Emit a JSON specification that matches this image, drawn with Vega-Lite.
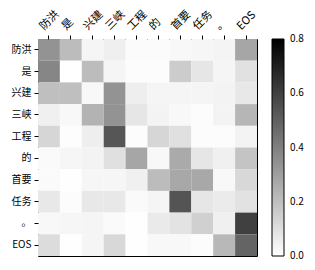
{
  "$schema": "https://vega.github.io/schema/vega-lite/v6.json",
  "autosize": {"type": "none"},
  "padding": {"left": 38, "top": 39, "right": 58, "bottom": 14},
  "width": 219,
  "height": 217,
  "background": "white",
  "config": {
    "view": {"stroke": "black", "strokeWidth": 1},
    "font": "Noto Sans CJK SC"
  },
  "data": {
    "values": [
      {"src": "防洪", "tgt": "防洪", "v": 0.34}, {"src": "防洪", "tgt": "是", "v": 0.21}, {"src": "防洪", "tgt": "兴建", "v": 0.03}, {"src": "防洪", "tgt": "三峡", "v": 0.05}, {"src": "防洪", "tgt": "工程", "v": 0.013}, {"src": "防洪", "tgt": "的", "v": 0.013}, {"src": "防洪", "tgt": "首要", "v": 0.022}, {"src": "防洪", "tgt": "任务", "v": 0.028}, {"src": "防洪", "tgt": "。", "v": 0.035}, {"src": "防洪", "tgt": "EOS", "v": 0.28},
      {"src": "是", "tgt": "防洪", "v": 0.38}, {"src": "是", "tgt": "是", "v": 0.0}, {"src": "是", "tgt": "兴建", "v": 0.21}, {"src": "是", "tgt": "三峡", "v": 0.03}, {"src": "是", "tgt": "工程", "v": 0.01}, {"src": "是", "tgt": "的", "v": 0.01}, {"src": "是", "tgt": "首要", "v": 0.16}, {"src": "是", "tgt": "任务", "v": 0.08}, {"src": "是", "tgt": "。", "v": 0.03}, {"src": "是", "tgt": "EOS", "v": 0.095},
      {"src": "兴建", "tgt": "防洪", "v": 0.2}, {"src": "兴建", "tgt": "是", "v": 0.2}, {"src": "兴建", "tgt": "兴建", "v": 0.022}, {"src": "兴建", "tgt": "三峡", "v": 0.34}, {"src": "兴建", "tgt": "工程", "v": 0.053}, {"src": "兴建", "tgt": "的", "v": 0.031}, {"src": "兴建", "tgt": "首要", "v": 0.031}, {"src": "兴建", "tgt": "任务", "v": 0.031}, {"src": "兴建", "tgt": "。", "v": 0.038}, {"src": "兴建", "tgt": "EOS", "v": 0.072},
      {"src": "三峡", "tgt": "防洪", "v": 0.047}, {"src": "三峡", "tgt": "是", "v": 0.022}, {"src": "三峡", "tgt": "兴建", "v": 0.24}, {"src": "三峡", "tgt": "三峡", "v": 0.34}, {"src": "三峡", "tgt": "工程", "v": 0.078}, {"src": "三峡", "tgt": "的", "v": 0.038}, {"src": "三峡", "tgt": "首要", "v": 0.022}, {"src": "三峡", "tgt": "任务", "v": 0.01}, {"src": "三峡", "tgt": "。", "v": 0.038}, {"src": "三峡", "tgt": "EOS", "v": 0.23},
      {"src": "工程", "tgt": "防洪", "v": 0.13}, {"src": "工程", "tgt": "是", "v": 0.006}, {"src": "工程", "tgt": "兴建", "v": 0.053}, {"src": "工程", "tgt": "三峡", "v": 0.53}, {"src": "工程", "tgt": "工程", "v": 0.01}, {"src": "工程", "tgt": "的", "v": 0.13}, {"src": "工程", "tgt": "首要", "v": 0.097}, {"src": "工程", "tgt": "任务", "v": 0.01}, {"src": "工程", "tgt": "。", "v": 0.01}, {"src": "工程", "tgt": "EOS", "v": 0.038},
      {"src": "的", "tgt": "防洪", "v": 0.016}, {"src": "的", "tgt": "是", "v": 0.028}, {"src": "的", "tgt": "兴建", "v": 0.038}, {"src": "的", "tgt": "三峡", "v": 0.097}, {"src": "的", "tgt": "工程", "v": 0.28}, {"src": "的", "tgt": "的", "v": 0.022}, {"src": "的", "tgt": "首要", "v": 0.267}, {"src": "的", "tgt": "任务", "v": 0.078}, {"src": "的", "tgt": "。", "v": 0.047}, {"src": "的", "tgt": "EOS", "v": 0.185},
      {"src": "首要", "tgt": "防洪", "v": 0.016}, {"src": "首要", "tgt": "是", "v": 0.003}, {"src": "首要", "tgt": "兴建", "v": 0.028}, {"src": "首要", "tgt": "三峡", "v": 0.028}, {"src": "首要", "tgt": "工程", "v": 0.047}, {"src": "首要", "tgt": "的", "v": 0.21}, {"src": "首要", "tgt": "首要", "v": 0.273}, {"src": "首要", "tgt": "任务", "v": 0.273}, {"src": "首要", "tgt": "。", "v": 0.022}, {"src": "首要", "tgt": "EOS", "v": 0.122},
      {"src": "任务", "tgt": "防洪", "v": 0.072}, {"src": "任务", "tgt": "是", "v": 0.01}, {"src": "任务", "tgt": "兴建", "v": 0.072}, {"src": "任务", "tgt": "三峡", "v": 0.072}, {"src": "任务", "tgt": "工程", "v": 0.016}, {"src": "任务", "tgt": "的", "v": 0.031}, {"src": "任务", "tgt": "首要", "v": 0.536}, {"src": "任务", "tgt": "任务", "v": 0.078}, {"src": "任务", "tgt": "。", "v": 0.063}, {"src": "任务", "tgt": "EOS", "v": 0.091},
      {"src": "。", "tgt": "防洪", "v": 0.022}, {"src": "。", "tgt": "是", "v": 0.028}, {"src": "。", "tgt": "兴建", "v": 0.031}, {"src": "。", "tgt": "三峡", "v": 0.016}, {"src": "。", "tgt": "工程", "v": 0.003}, {"src": "。", "tgt": "的", "v": 0.066}, {"src": "。", "tgt": "首要", "v": 0.088}, {"src": "。", "tgt": "任务", "v": 0.147}, {"src": "。", "tgt": "。", "v": 0.047}, {"src": "。", "tgt": "EOS", "v": 0.6},
      {"src": "EOS", "tgt": "防洪", "v": 0.11}, {"src": "EOS", "tgt": "是", "v": 0.003}, {"src": "EOS", "tgt": "兴建", "v": 0.031}, {"src": "EOS", "tgt": "三峡", "v": 0.122}, {"src": "EOS", "tgt": "工程", "v": 0.003}, {"src": "EOS", "tgt": "的", "v": 0.022}, {"src": "EOS", "tgt": "首要", "v": 0.022}, {"src": "EOS", "tgt": "任务", "v": 0.01}, {"src": "EOS", "tgt": "。", "v": 0.223}, {"src": "EOS", "tgt": "EOS", "v": 0.486}
    ]
  },
  "mark": {"type": "rect"},
  "encoding": {
    "x": {
      "field": "tgt", "type": "nominal",
      "sort": ["防洪", "是", "兴建", "三峡", "工程", "的", "首要", "任务", "。", "EOS"],
      "scale": {"paddingInner": 0, "paddingOuter": 0},
      "axis": {
        "orient": "top", "title": null, "domain": false,
        "tickColor": "black", "tickSize": 4, "tickWidth": 1,
        "labelAngle": -45, "labelAlign": "left", "labelBaseline": "middle",
        "labelPadding": 7, "labelFontSize": 11, "labelColor": "black",
        "labelOffset": -7
      }
    },
    "y": {
      "field": "src", "type": "nominal",
      "sort": ["防洪", "是", "兴建", "三峡", "工程", "的", "首要", "任务", "。", "EOS"],
      "scale": {"paddingInner": 0, "paddingOuter": 0},
      "axis": {
        "title": null, "domain": false,
        "tickColor": "black", "tickSize": 4, "tickWidth": 1,
        "labelPadding": 3, "labelFontSize": 10, "labelColor": "black"
      }
    },
    "color": {
      "field": "v", "type": "quantitative",
      "scale": {"domain": [0, 0.8], "range": ["#ffffff", "#000000"], "interpolate": "rgb"},
      "legend": {
        "title": null, "orient": "right", "offset": 15,
        "gradientLength": 217, "gradientThickness": 12,
        "gradientStrokeColor": "black", "gradientStrokeWidth": 1,
        "values": [0, 0.2, 0.4, 0.6, 0.8], "format": ".1f",
        "labelFontSize": 10, "labelColor": "black", "labelOffset": 6,
        "labelOverlap": false,
        "encode": {"labels": {"update": {"baseline": {"value": "middle"}}}}
      }
    }
  }
}
